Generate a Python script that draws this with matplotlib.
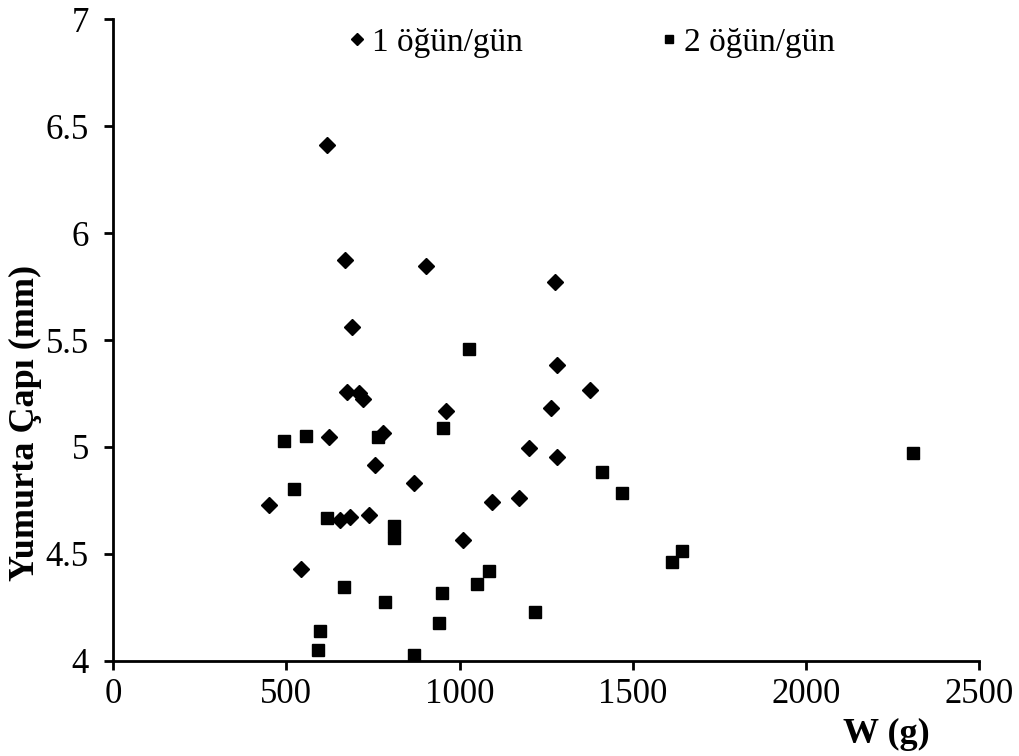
import matplotlib
matplotlib.use("Agg")
import matplotlib.pyplot as plt

# 1 ogun/gun (diamonds)
w_1 = [449, 541, 618, 622, 656, 670, 674, 685, 689, 710, 720, 738, 756, 780,
       868, 902, 960, 1009, 1094, 1171, 1201, 1265, 1276, 1280, 1281, 1375]
cap_1 = [4.73, 4.43, 6.41, 5.045, 4.66, 5.873, 5.257, 4.672, 5.559, 5.25, 5.225, 4.683, 4.914, 5.065,
         4.833, 5.848, 5.17, 4.567, 4.742, 4.761, 4.993, 5.184, 5.77, 5.382, 4.951, 5.268]

# 2 ogun/gun (squares)
w_2 = [492, 522, 556, 590, 598, 618, 666, 765, 784, 812, 812, 869, 940, 950,
       951, 1027, 1049, 1085, 1217, 1410, 1468, 1614, 1642, 2309]
cap_2 = [5.026, 4.805, 5.053, 4.05, 4.141, 4.669, 4.343, 5.045, 4.273, 4.631, 4.575, 4.028, 4.175, 4.317,
         5.087, 5.457, 4.359, 4.422, 4.23, 4.881, 4.784, 4.464, 4.511, 4.971]

x_ticks = [0, 500, 1000, 1500, 2000, 2500]
y_ticks = [4, 4.5, 5, 5.5, 6, 6.5, 7]
y_ticklabels = ["4", "4.5", "5", "5.5", "6", "6.5", "7"]

plt.rcParams["font.family"] = ["Liberation Serif", "DejaVu Serif"]

fig = plt.figure(figsize=(10.2, 7.56), dpi=100)
ax = fig.add_axes([0.111, 0.126, 0.849, 0.8485])

ax.plot(w_1, cap_1, linestyle="none", marker="D", ms=8.5, color="black", label="1 öğün/gün")
ax.plot(w_2, cap_2, linestyle="none", marker="s", ms=8, color="black", label="2 öğün/gün")

ax.set_xlim(0, 2500)
ax.set_ylim(4, 7)
ax.set_xticks(x_ticks)
ax.set_yticks(y_ticks)
ax.set_yticklabels(y_ticklabels)
ax.tick_params(axis="both", direction="out", length=6.5, width=2, labelsize=25)
ax.tick_params(axis="y", pad=11)
ax.tick_params(axis="x", pad=6)

for side in ["top", "right"]:
    ax.spines[side].set_visible(False)
for side in ["left", "bottom"]:
    ax.spines[side].set_linewidth(2)

fig.text(0.025, 0.44, "Yumurta Çapı (mm)", fontsize=26, fontweight="bold",
         rotation=90, ha="center", va="center")
fig.text(0.869, 0.028, "W (g)", fontsize=26, fontweight="bold", ha="center", va="center")

fig.legend(loc="center", bbox_to_anchor=(0.581, 0.944), ncol=2, frameon=False,
           fontsize=24, handlelength=0.4, handletextpad=0.25, columnspacing=4.2,
           markerscale=0.75)

fig.savefig("out.png", dpi=100, facecolor="white")
